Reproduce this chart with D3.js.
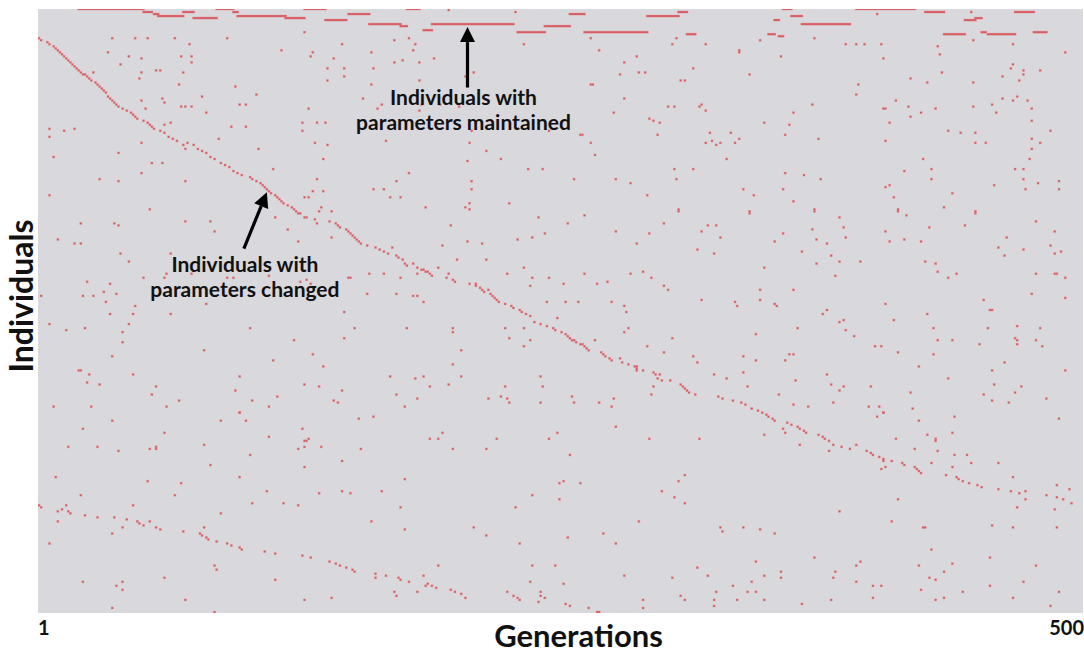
<!DOCTYPE html>
<html>
<head>
<meta charset="utf-8">
<script src="https://cdn.jsdelivr.net/npm/d3@7"></script>
<style>
  html, body { margin: 0; padding: 0; background: #ffffff; }
  svg { display: block; }
  text { font-family: Lato, "Open Sans", sans-serif; font-weight: 700; fill: #111; }
</style>
</head>
<body>
<div id="chart"></div>
<script>
// --- data ---------------------------------------------------------------
const generationCount = 500;
const individualCount = 300;
const tickLabels = [1, 500];

// individuals that kept their parameters: [row, first generation, last generation]
const maintainedRuns = [
  [0,20,37],[0,37,51],[0,86,94],[0,128,138],[0,177,183],[0,357,361],[0,392,402],[0,403,420],
  [1,51,55],[1,70,75],[1,94,96],[1,307,311],[1,425,434],[1,447,447],[1,468,477],
  [2,56,58],[2,149,159],[2,255,262],[2,402,402],
  [3,58,70],[3,96,119],[3,292,307],[3,361,366],
  [4,75,86],[4,119,128],[4,449,452],
  [5,138,148],[5,353,355],[5,444,449],
  [7,159,174],[7,189,228],[7,366,389],
  [8,174,177],[8,243,255],
  [10,185,189],
  [11,230,243],[11,262,292],[11,452,454],[11,477,483],
  [12,311,315],[12,350,353],[12,434,444],[12,455,468],
  [13,355,357]
];

// main trail of changed individuals: [generation, individual]
const mainTrail = [
  [1,14],[2,15],[5,16],[6,17],[8,18],[9,19],[10,20],[11,21],[12,22],[13,23],[14,24],[15,25],[16,26],
  [17,27],[18,28],[19,29],[20,30],[21,31],[22,32],[23,32],[24,33],[25,34],[26,35],[28,36],[29,37],
  [30,38],[31,39],[32,40],[33,41],[34,43],[35,44],[36,45],[37,46],[38,47],[39,48],[41,49],[43,50],
  [45,51],[46,52],[47,53],[48,54],[51,55],[53,56],[54,57],[55,58],[56,59],
  [59,60],[61,61],[63,63],[65,64],[67,65],[70,67],[72,66],[75,67],[77,69],[79,70],[81,71],[83,73],
  [85,74],[88,76],[90,77],[92,78],
  [94,80],[96,81],[98,82],[102,83],[103,84],[105,85],[107,86],[108,87],[109,88],[110,89],[111,90],
  [112,91],[114,92],[115,93],[116,94],[117,95],[118,96],[120,97],[122,98],[123,99],[124,100],
  [125,101],[126,101],[128,103],[129,103],
  [134,106],[140,105],[143,106],[144,107],[145,108],[148,109],[149,110],[150,111],[151,112],[152,113],
  [153,114],[154,115],[155,116],[158,117],[162,118],[164,119],[166,120],[168,121],[170,118],[172,122],
  [173,123],[175,124],[176,126],[177,127],[180,126],[182,128],[184,129],[185,129],[186,130],[187,130],
  [188,131],[189,132],[199,134],[200,135],[207,136],[210,136],[210,137],[212,138],[213,139],[214,140],
  [216,139],[217,141],[218,142],[219,143],[220,144],[221,145],[224,146],[227,147],[228,148],[231,149],
  [232,150],[234,151],[236,152],[238,155],[241,156],[244,157],[247,158],[248,159],
  [251,160],[253,161],[254,162],[255,163],[256,164],[257,164],[258,165],[260,166],[261,166],[262,167],
  [263,168],[264,169],[270,170],[271,171],[272,172],[274,173],[275,174],[279,173],[280,175],[283,176],
  [286,177],[287,177],[287,178],[287,179],[290,179],[295,180],[296,181],[297,183],[298,181],[299,184],
  [308,186],[309,187],[310,188],[311,189],[312,190],[315,191],[326,192],[328,193],[333,194],[337,195],
  [339,196],[342,198],[345,199],[347,200],[349,201],
  [350,202],[352,203],[353,204],[357,208],[358,210],[359,205],[361,206],[364,207],[365,208],[367,209],
  [368,210],[374,211],[376,212],[377,213],[379,214],[381,216],[385,217],[389,218],[392,216],[397,219],
  [399,220],[400,221],[403,222],[405,223],[405,224],[406,227],[404,228],[409,224],[414,225],[415,226],
  [420,227],[421,228],[422,229],[423,230],[435,231],[440,232],[441,233],[443,234],[446,235],[450,236],
  [452,237],[460,238],[466,239],[470,240],[473,239],[473,243],[469,247],[483,241],[488,236],[488,242],
  [491,243],[494,238],[495,245],[487,248]
];

// second, fainter trail near the bottom: [generation, individual]
const lowerTrail = [
  [1,246],[2,247],[10,249],[12,248],[14,246],[15,249],[16,250],[10,254],[23,251],[29,252],[37,252],
  [43,253],[41,257],[48,254],[49,255],[51,256],[54,254],[57,257],[59,258],[70,259],[78,260],[79,261],
  [80,257],[81,262],[82,263],[86,264],[91,265],[93,266],[97,267],[98,268],[109,269],[114,270],[127,271],
  [131,272],[140,274],[143,275],[145,276],[148,277],[151,278],[152,279],[162,280],[162,282],[167,281],
  [173,282],[174,283],[178,284],[171,289],[172,291],[182,289],[185,281],[186,286],[187,285],[189,286],
  [191,287],[198,288],[200,289],[203,290],[205,292],[225,289],[228,291],[230,292],[231,293],[240,294],
  [241,289],[241,291],[243,292],[252,285],[253,295],[255,296],[264,297],[268,299],[269,299]
];

// isolated changed individuals: [generation, individual]
const scattered = [
  // upper left
  [128,11],[36,14],[47,14],[53,14],[66,14],[73,17],[91,14],[146,17],[171,15],[178,14],[181,17],[229,1],
  [233,17],[197,0],[34,21],[44,23],[50,24],[69,23],[74,23],[74,26],[117,20],[132,21],[131,23],[142,24],
  [160,21],[180,20],[171,26],[175,25],[183,26],[190,24],[40,27],[27,31],[57,30],[59,30],[50,31],[70,31],
  [49,34],[68,37],[139,29],[147,29],[139,35],[147,33],[161,29],[183,35],[160,37],[205,33],[209,31],
  [95,38],[79,43],[105,42],[60,44],[61,46],[50,45],[69,48],[71,48],[74,48],[52,49],[97,47],[100,47],
  [81,51],[130,49],[156,44],[165,47],[163,49],[184,47],[193,47],[202,48],[183,50],[6,59],[13,60],[18,59],
  [6,63],[61,57],[64,56],[93,58],[100,58],[127,56],[134,56],[138,56],[127,60],[87,64],[208,60],[245,60],
  [50,66],[71,69],[106,69],[133,66],[139,67],[167,65],[207,66],[215,70],[222,74],[8,73],[39,71],[55,76],
  [60,76],[137,74],[206,75],[50,81],[30,84],[39,85],[71,85],[113,79],[134,84],[178,81],[235,79],[242,79],
  [172,85],[208,85],[6,92],[132,90],[137,90],[128,93],[130,93],[161,89],[166,89],[169,93],[174,93],
  [208,89],[207,96],[226,96],[186,98],[205,98],[54,99],[136,98],[135,100],[141,100],[207,99],
  // upper right
  [265,14],[269,20],[281,26],[287,23],[279,32],[288,31],[291,31],[281,44],[276,51],[304,17],[306,14],
  [320,17],[314,29],[308,35],[310,35],[302,48],[305,48],[293,54],[295,55],[298,56],[297,62],[317,48],
  [318,47],[320,50],[346,15],[341,32],[356,23],[372,14],[362,51],[371,47],[348,56],[360,57],[358,62],
  [374,64],[387,17],[392,17],[396,17],[404,17],[405,24],[393,37],[392,42],[411,45],[418,34],[426,36],
  [417,48],[423,51],[418,53],[430,49],[408,56],[431,18],[432,22],[433,31],[448,15],[448,36],[448,48],
  [467,17],[467,27],[466,29],[472,30],[472,32],[480,30],[462,33],[470,35],[462,44],[469,43],[467,45],
  [474,45],[457,47],[459,51],[476,49],[492,21],[476,55],[485,60],[436,60],[442,61],[449,61],[449,66],
  [454,66],[476,64],[480,66],[476,69],[475,74],[468,79],[472,79],[472,84],[479,86],[489,85],[489,89],
  [473,89],[458,87],[424,74],[428,79],[428,84],[415,80],[408,87],[406,88],[410,93],[438,91],[434,98],
  [412,100],[449,100],[260,62],[261,62],[265,66],[267,72],[257,84],[277,84],[284,86],[292,92],[305,79],
  [314,79],[306,84],[322,61],[320,66],[323,65],[325,67],[327,66],[332,61],[334,66],[336,64],[330,74],
  [338,89],[343,92],[357,89],[358,81],[367,82],[375,84],[362,95],[372,100],[341,100],[307,100],[265,37],
  [266,37],[336,20],[336,21],[405,49],[406,49],[406,65],
  // middle left
  [21,106],[37,106],[39,107],[71,105],[83,105],[85,110],[114,103],[120,109],[125,115],[133,104],[141,113],
  [10,114],[18,116],[21,116],[40,121],[44,125],[64,121],[24,135],[35,136],[32,140],[38,141],[27,142],
  [22,142],[2,142],[33,145],[47,147],[35,151],[46,151],[51,133],[61,133],[62,131],[64,151],[6,156],
  [14,159],[23,158],[44,156],[41,160],[41,165],[36,172],[20,179],[21,179],[25,181],[24,185],[30,186],
  [46,181],[57,187],[55,191],[68,194],[62,197],[8,197],[26,197],[74,131],[91,133],[94,133],[111,132],
  [126,135],[129,134],[131,136],[149,133],[150,133],[158,141],[159,131],[166,131],[174,133],[172,141],
  [180,142],[182,142],[185,145],[182,131],[192,128],[194,117],[198,107],[206,115],[213,116],[215,124],
  [201,124],[197,131],[196,133],[225,131],[230,114],[233,128],[237,113],[240,103],[243,111],[236,137],
  [237,133],[245,133],[244,145],[249,153],[147,150],[152,158],[147,163],[102,158],[123,164],[81,146],
  [132,171],[137,177],[113,174],[80,169],[97,182],[95,189],[103,194],[115,192],[128,186],[135,187],
  [142,194],[144,195],[146,189],[111,197],[97,200],[169,182],[172,191],[176,197],[181,183],[182,193],
  [185,182],[188,187],[197,186],[203,182],[203,169],[199,176],[177,158],[199,158],[199,160],[226,163],
  [224,158],[233,158],[236,164],[233,167],[216,193],[222,192],[225,193],[226,195],[224,187],[241,182],
  [242,187],[241,195],
  // middle right
  [262,102],[254,106],[277,110],[287,116],[293,111],[300,106],[307,99],[321,107],[325,107],[318,110],
  [327,113],[316,119],[324,121],[341,101],[357,111],[353,115],[348,128],[372,99],[371,109],[373,114],
  [378,116],[366,120],[380,122],[384,125],[373,126],[384,103],[386,108],[387,113],[394,125],[382,132],
  [412,99],[416,102],[406,110],[408,115],[415,114],[423,115],[427,108],[425,125],[430,126],[431,130],
  [440,131],[436,133],[444,107],[449,101],[464,113],[460,118],[463,122],[472,119],[478,105],[487,110],
  [485,117],[487,121],[490,120],[478,131],[487,131],[488,131],[492,133],[476,141],[492,143],[453,144],
  [456,149],[457,149],[455,158],[469,157],[480,158],[468,163],[469,164],[478,164],[469,166],[481,167],
  [451,166],[463,175],[457,179],[492,179],[458,186],[471,187],[468,190],[453,191],[457,194],[465,195],
  [483,193],[252,136],[262,131],[268,136],[273,135],[284,131],[290,130],[294,133],[300,137],[302,139],
  [253,145],[259,145],[275,145],[281,147],[282,150],[283,158],[281,160],[267,164],[292,167],[304,163],
  [300,170],[314,172],[316,175],[318,144],[334,145],[335,147],[346,139],[346,144],[362,139],[353,146],
  [354,147],[364,158],[378,149],[376,151],[386,154],[384,155],[387,159],[391,162],[344,161],[406,146],
  [410,154],[426,151],[429,158],[431,164],[438,164],[401,167],[404,167],[412,170],[429,171],[422,177],
  [436,183],[418,190],[419,198],[403,197],[398,197],[405,200],[399,187],[384,189],[386,187],[380,186],
  [381,195],[378,181],[369,197],[363,184],[362,196],[360,171],[362,171],[358,174],[344,174],[338,172],
  [338,180],[340,187],[324,181],[330,183],[355,191],[256,192],[257,195],[269,195],[276,193],[275,197],
  [303,184],[295,187],[294,191],
  // lower left
  [22,208],[36,204],[15,217],[29,217],[39,219],[54,218],[57,217],[57,218],[61,210],[80,216],[83,226],
  [88,204],[97,200],[100,204],[102,221],[111,212],[125,218],[127,208],[128,214],[129,214],[130,213],
  [128,217],[136,217],[128,227],[146,224],[154,203],[161,202],[155,218],[188,213],[192,213],[194,210],
  [199,218],[215,218],[220,213],[245,213],[249,210],[9,232],[21,241],[53,234],[69,235],[66,241],[46,246],
  [97,232],[88,250],[103,245],[110,239],[118,245],[125,246],[135,240],[146,239],[150,240],[165,239],
  [176,233],[174,247],[176,258],[160,254],[209,257],[215,261],[229,247],[231,265],[237,241],[250,235],
  [250,243],[6,265],[22,284],[36,260],[38,286],[41,284],[41,288],[36,297],[61,282],[71,293],[85,276],
  [86,278],[85,299],[114,283],[128,293],[141,292],[192,276],[237,276],[248,276],[236,284],
  // lower right
  [277,207],[293,213],[317,213],[348,211],[365,216],[379,219],[402,202],[405,200],[422,204],[426,211],
  [430,213],[430,214],[431,219],[428,225],[411,213],[420,218],[439,202],[438,210],[439,221],[445,221],
  [447,225],[438,227],[460,225],[467,232],[489,203],[255,221],[252,234],[260,235],[299,239],[305,242],
  [307,234],[310,231],[310,245],[288,254],[254,262],[271,260],[277,265],[327,257],[328,259],[338,257],
  [346,258],[353,260],[384,249],[409,254],[412,243],[424,257],[425,257],[457,256],[467,257],[488,257],
  [428,268],[281,281],[290,297],[290,293],[304,282],[308,291],[310,293],[316,277],[321,281],[324,293],
  [324,296],[325,289],[333,286],[335,293],[340,289],[342,284],[344,289],[344,274],[348,281],[348,293],
  [356,279],[356,282],[366,295],[372,272],[380,293],[381,282],[382,279],[392,276],[392,284],[394,274],
  [400,286],[400,292],[404,286],[422,276],[423,288],[427,282],[430,283],[430,293],[434,279],[434,292],
  [438,275],[443,289],[456,272],[456,286],[467,292],[472,284],[478,276],[485,296],[489,289]
];

// --- layout -------------------------------------------------------------
const W = 1084, H = 655;
const margin = { top: 9, right: 1, bottom: 42, left: 38 };
const plotW = W - margin.left - margin.right;
const plotH = H - margin.top - margin.bottom;

const svg = d3.select("#chart").append("svg")
    .attr("width", W)
    .attr("height", H);

const x = d3.scaleBand()
    .domain(d3.range(1, generationCount + 1))
    .range([margin.left, margin.left + plotW]);

const y = d3.scaleBand()
    .domain(d3.range(0, individualCount))
    .range([margin.top, margin.top + plotH]);

const bw = x.bandwidth(), bh = y.bandwidth();
const red = "#d9585c";

svg.append("defs").append("clipPath")
    .attr("id", "plotClip")
    .append("rect")
    .attr("x", margin.left)
    .attr("y", margin.top)
    .attr("width", plotW)
    .attr("height", plotH);

svg.append("rect")
    .attr("x", margin.left)
    .attr("y", margin.top)
    .attr("width", plotW)
    .attr("height", plotH)
    .attr("fill", "#d9d8dc");

const marks = svg.append("g").attr("clip-path", "url(#plotClip)");

// the top row is only half visible in the original, so runs sit a pixel higher
marks.selectAll("rect.run")
    .data(maintainedRuns)
    .join("rect")
    .attr("class", "run")
    .attr("x", d => x(d[1]))
    .attr("y", d => y(d[0]) - (d[0] === 0 ? 1 : 0))
    .attr("width", d => x(d[2]) + bw - x(d[1]))
    .attr("height", bh)
    .attr("fill", red)
    .attr("stroke", "rgba(222,140,143,0.6)")
    .attr("stroke-width", 0.6);

const allDots = mainTrail.concat(lowerTrail, scattered);
marks.selectAll("rect.dot")
    .data(allDots)
    .join("rect")
    .attr("class", "dot")
    .attr("x", d => x(d[0]))
    .attr("y", d => y(d[1]))
    .attr("width", bw)
    .attr("height", bh)
    .attr("fill", red)
    .attr("stroke", "rgba(222,140,143,0.55)")
    .attr("stroke-width", 0.6);

// --- axes ---------------------------------------------------------------
const xAxis = svg.append("g")
    .attr("transform", `translate(0,${margin.top + plotH})`)
    .call(d3.axisBottom(x).tickValues(tickLabels).tickSize(0).tickPadding(8));
xAxis.select(".domain").remove();
xAxis.selectAll("text")
    .style("font-family", "Lato, sans-serif")
    .style("font-weight", 700)
    .style("font-size", "20px")
    .attr("fill", "#111")
    .attr("text-anchor", (d, i) => i === 0 ? "start" : "end")
    .attr("dx", (d, i) => i === 0 ? -bw / 2 : bw / 2 + 1);

svg.append("text")
    .attr("x", margin.left + plotW / 2 + 18)
    .attr("y", H - 8)
    .attr("text-anchor", "middle")
    .style("font-size", "31px")
    .text("Generations");

svg.append("text")
    .attr("transform", `translate(33,${margin.top + plotH / 2 - 15}) rotate(-90)`)
    .attr("text-anchor", "middle")
    .style("font-size", "32px")
    .text("Individuals");

// --- annotations --------------------------------------------------------
function arrow(x1, y1, x2, y2) {
    const ang = Math.atan2(y2 - y1, x2 - x1);
    const len = 15, half = 7.5;
    const bx = x2 - len * Math.cos(ang), by = y2 - len * Math.sin(ang);
    svg.append("line")
        .attr("x1", x1).attr("y1", y1)
        .attr("x2", bx).attr("y2", by)
        .attr("stroke", "#000")
        .attr("stroke-width", 3.2);
    const px = -Math.sin(ang) * half, py = Math.cos(ang) * half;
    svg.append("path")
        .attr("d", `M${x2},${y2}L${bx + px},${by + py}L${bx - px},${by - py}Z`)
        .attr("fill", "#000");
}

function note(cx, y0, lines) {
    svg.append("text")
        .attr("text-anchor", "middle")
        .style("font-size", "21px")
        .selectAll("tspan")
        .data(lines)
        .join("tspan")
        .attr("x", cx)
        .attr("y", (d, i) => y0 + i * 24.5)
        .text(d => d);
}

// maintained: arrow points at the runs in the top rows
const mx = x(206) + bw / 2;
arrow(mx, y(39), mx, y(9));
note(mx - 4, 105, ["Individuals with", "parameters maintained"]);

// changed: arrow points at the main trail
arrow(x(99) + bw / 2, y(119), x(110) + bw / 2, y(91));
note(x(100), 272, ["Individuals with", "parameters changed"]);
</script>
</body>
</html>
